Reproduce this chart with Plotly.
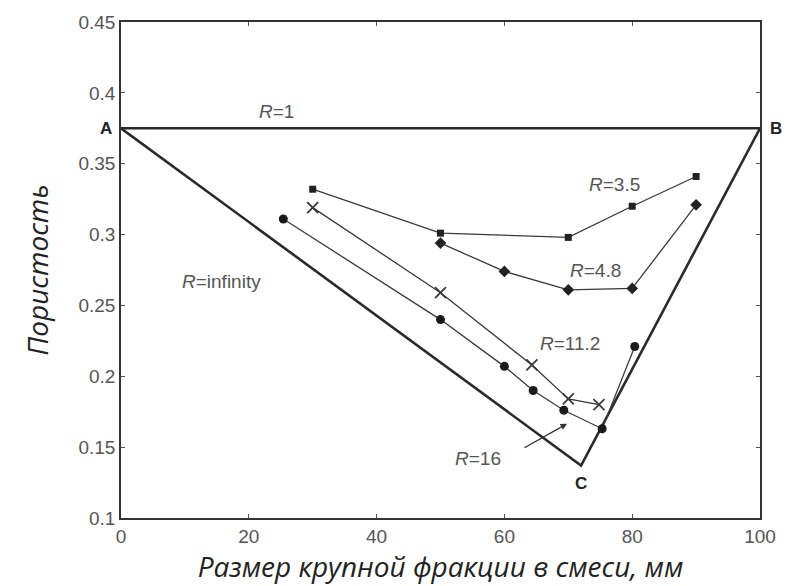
import plotly.graph_objects as go

# Boundary lines (R = 1 and R = infinity triangle)
r1_x = [0, 100]
r1_y = [0.375, 0.375]
tri_x = [0, 72, 100]
tri_y = [0.375, 0.137, 0.375]

# Series
r35_x = [30, 50, 70, 80, 90]
r35_y = [0.332, 0.301, 0.298, 0.320, 0.341]

r48_x = [50, 60, 70, 80, 90]
r48_y = [0.294, 0.274, 0.261, 0.262, 0.321]

r112_x = [30, 50, 64.3, 70, 74.8]
r112_y = [0.319, 0.259, 0.208, 0.184, 0.180]

r16_x = [25.4, 50, 60, 64.5, 69.3, 75.3, 80.4]
r16_y = [0.311, 0.240, 0.207, 0.190, 0.176, 0.163, 0.221]

x_ticks = [0, 20, 40, 60, 80, 100]
y_ticks = [0.1, 0.15, 0.2, 0.25, 0.3, 0.35, 0.4, 0.45]
y_tick_text = ["0.1", "0.15", "0.2", "0.25", "0.3", "0.35", "0.4", "0.45"]

thin = dict(color="#3a3a3a", width=1.3)
thick = dict(color="#2a2a2a", width=2.6)

fig = go.Figure()
fig.add_trace(go.Scatter(x=r1_x, y=r1_y, mode="lines", line=thick, cliponaxis=False))
fig.add_trace(go.Scatter(x=tri_x, y=tri_y, mode="lines", line=thick, cliponaxis=False))
fig.add_trace(go.Scatter(x=r35_x, y=r35_y, mode="lines+markers", line=thin,
                         marker=dict(symbol="square", size=7, color="#222")))
fig.add_trace(go.Scatter(x=r48_x, y=r48_y, mode="lines+markers", line=thin,
                         marker=dict(symbol="diamond", size=9, color="#222")))
fig.add_trace(go.Scatter(x=r112_x, y=r112_y, mode="lines+markers", line=thin,
                         marker=dict(symbol="x-thin-open", size=11,
                                     line=dict(color="#222", width=1.8))))
fig.add_trace(go.Scatter(x=r16_x, y=r16_y, mode="lines+markers", line=thin,
                         marker=dict(symbol="circle", size=9, color="#1a1a1a")))

lbl = dict(family="Liberation Sans, Arial, sans-serif", size=19, color="#555")
ann = [
    dict(x=24.3, y=0.387, text="<i>R</i>=1"),
    dict(x=77.3, y=0.335, text="<i>R</i>=3.5"),
    dict(x=74.3, y=0.275, text="<i>R</i>=4.8"),
    dict(x=70.3, y=0.223, text="<i>R</i>=11.2"),
    dict(x=55.9, y=0.142, text="<i>R</i>=16"),
    dict(x=15.8, y=0.267, text="<i>R</i>=infinity"),
]
for a in ann:
    fig.add_annotation(x=a["x"], y=a["y"], text=a["text"], showarrow=False,
                       font=lbl)

fig.add_annotation(x=69.8, y=0.1665, ax=62.9, ay=0.149, xref="x", yref="y",
                   axref="x", ayref="y", text="", showarrow=True, arrowhead=2,
                   arrowsize=1, arrowwidth=1.3, arrowcolor="#333")

bold = dict(family="Liberation Sans, Arial, sans-serif", size=17, color="#222")
fig.add_annotation(x=0, y=0.375, text="<b>A</b>", showarrow=False, font=bold,
                   xanchor="right", xshift=-7)
fig.add_annotation(x=100, y=0.375, text="<b>B</b>", showarrow=False, font=bold,
                   xanchor="left", xshift=8)
fig.add_annotation(x=72, y=0.137, text="<b>C</b>", showarrow=False, font=bold,
                   yanchor="top", yshift=-6)

axis_common = dict(showline=True, linecolor="#333", linewidth=1.5, mirror="ticks",
                   ticks="inside", ticklen=4, tickcolor="#555", showgrid=False,
                   zeroline=False,
                   tickfont=dict(family="Liberation Sans, Arial, sans-serif",
                                 size=19, color="#555"))

fig.update_layout(
    width=793, height=586,
    margin=dict(l=121, r=33, t=18, b=68),
    plot_bgcolor="white", paper_bgcolor="white",
    showlegend=False,
    xaxis=dict(range=[0, 100], tickvals=x_ticks, **axis_common,
               title=dict(text="Размер крупной фракции в смеси, мм", standoff=8,
                          font=dict(family="Open Sans", size=28, color="#222",
                                    style="italic"))),
    yaxis=dict(range=[0.1, 0.45], tickvals=y_ticks, ticktext=y_tick_text,
               **axis_common,
               title=dict(text="Пористость", standoff=22,
                          font=dict(family="Open Sans", size=28, color="#222",
                                    style="italic"))),
)

fig.write_html("out.html")
